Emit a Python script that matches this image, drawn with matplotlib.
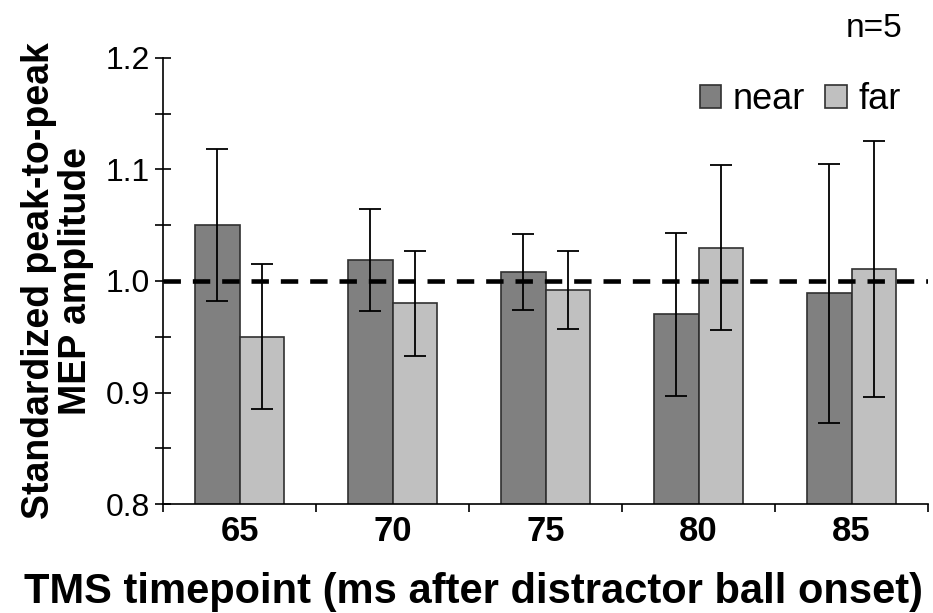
import matplotlib
matplotlib.use("Agg")
import matplotlib.pyplot as plt
import numpy as np

timepoints = ["65", "70", "75", "80", "85"]
near_mean = [1.050, 1.019, 1.008, 0.970, 0.989]
near_err = [0.068, 0.046, 0.034, 0.073, 0.116]
far_mean = [0.950, 0.980, 0.992, 1.030, 1.011]
far_err = [0.065, 0.047, 0.035, 0.074, 0.115]

plt.rcParams['font.family'] = ['Liberation Sans', 'DejaVu Sans']

fig = plt.figure(figsize=(9.33, 6.13), dpi=100)
ax = fig.add_axes([0.1747, 0.1778, 0.82, 0.7276])

x = np.arange(len(timepoints))
w = 0.29
err_kw = dict(ecolor='black', elinewidth=1.3, capsize=8, capthick=1.3)
ax.bar(x - w / 2, near_mean, w, yerr=near_err, color='#808080',
       edgecolor='#303030', linewidth=1.2, label='near', error_kw=err_kw, zorder=2)
ax.bar(x + w / 2, far_mean, w, yerr=far_err, color='#c0c0c0',
       edgecolor='#303030', linewidth=1.2, label='far', error_kw=err_kw, zorder=2)

# reference line at 1.0
ax.axhline(1.0, color='black', linestyle=(0, (3.8, 2.6)), linewidth=3.3, zorder=3)

ax.set_ylim(0.8, 1.2)
ax.set_xlim(-0.5, len(timepoints) - 0.5)

yt = np.arange(0.8, 1.201, 0.1)
ax.set_yticks(yt)
ax.set_yticklabels(["%.1f" % v for v in yt], fontsize=23)
ax.set_yticks(np.arange(0.85, 1.2, 0.1), minor=True)
ax.tick_params(axis='y', which='both', direction='inout', length=11, width=1.2, pad=4)

# category labels centred, ticks at boundaries
ax.set_xticks(np.arange(-0.5, len(timepoints), 1.0))
ax.set_xticklabels([])
ax.set_xticks(x, minor=True)
ax.set_xticklabels(timepoints, minor=True, fontsize=25, fontweight='bold')
ax.tick_params(axis='x', which='major', direction='out', length=6, width=1.2)
ax.tick_params(axis='x', which='minor', length=0, pad=8)

for s in ['top', 'right']:
    ax.spines[s].set_visible(False)
ax.spines['left'].set_linewidth(1.2)
ax.spines['bottom'].set_linewidth(1.2)

ax.set_ylabel("Standardized peak-to-peak\nMEP amplitude", fontsize=27,
              fontweight='bold', linespacing=1.05, labelpad=8)

fig.text(0.508, 0.016, "TMS timepoint (ms after distractor ball onset)",
         fontsize=30, fontweight='bold', ha='center', va='baseline')

fig.text(0.967, 0.953, "n=5", fontsize=24, ha='right', va='center')
fig.legend(loc='center right', bbox_to_anchor=(0.966, 0.838), ncol=2,
           frameon=False, fontsize=26, handlelength=0.6, handleheight=0.6,
           handletextpad=0.33, columnspacing=0.55, borderpad=0, borderaxespad=0)

fig.savefig("out.png", dpi=100)
